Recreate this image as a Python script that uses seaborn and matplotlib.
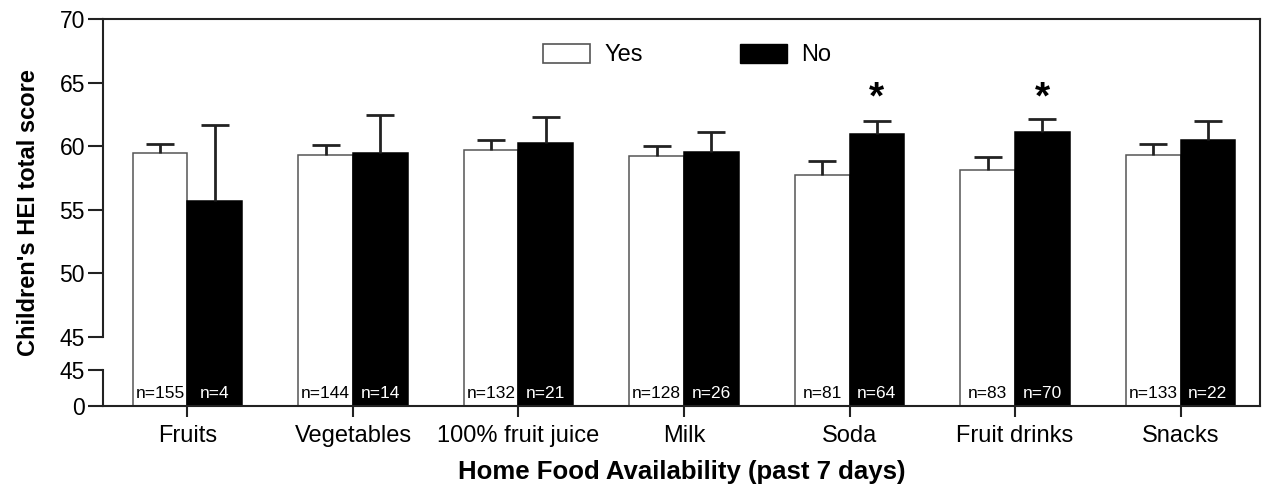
import numpy as np
import pandas as pd
import seaborn as sns
import matplotlib.pyplot as plt
from matplotlib.patches import Patch

# Data
categories = ["Fruits", "Vegetables", "100% fruit juice", "Milk", "Soda", "Fruit drinks", "Snacks"]
yes_mean = [59.45, 59.3, 59.7, 59.2, 57.7, 58.15, 59.3]
yes_upper = [60.15, 60.1, 60.5, 60.05, 58.85, 59.15, 60.2]
no_mean = [55.7, 59.45, 60.25, 59.55, 60.95, 61.1, 60.5]
no_upper = [61.65, 62.45, 62.3, 61.1, 62.0, 62.15, 62.0]
yes_n = [155, 144, 132, 128, 81, 83, 133]
no_n = [4, 14, 21, 26, 64, 70, 22]
significant = [False, False, False, False, True, True, False]

df = pd.DataFrame({
    "food": categories * 2,
    "answer": ["Yes"] * len(categories) + ["No"] * len(categories),
    "score": yes_mean + no_mean,
})

# broken y axis: 0-45 squeezed, then a gap, then 45-70
def fwd(y):
    y = np.asarray(y, dtype=float)
    return np.where(y < 45, y * 36 / 45, 69 + (y - 45) * 318 / 25)

def inv(v):
    v = np.asarray(v, dtype=float)
    return np.where(v < 36, v * 45 / 36, np.where(v < 69, 45, 45 + (v - 69) * 25 / 318))

plt.rcParams['font.family'] = ['Liberation Sans', 'DejaVu Sans']
fig, ax = plt.subplots(figsize=(12.63, 4.98), dpi=100)
fig.subplots_adjust(left=0.0816, right=0.9976, top=0.9618, bottom=0.1847)

sns.barplot(data=df, x="food", y="score", hue="answer", order=categories,
            hue_order=["Yes", "No"], palette=["white", "black"], width=0.66,
            errorbar=None, ax=ax, legend=False)

ax.set_yscale('function', functions=(fwd, inv))
ax.set_ylim(0, 70)
ax.set_xlim(-0.51, 6.48)

uppers = [yes_upper, no_upper]
means = [yes_mean, no_mean]
ns = [yes_n, no_n]
bar_conts = list(ax.containers)
for k, cont in enumerate(bar_conts):
    for i, bar in enumerate(cont):
        cx = bar.get_x() + bar.get_width() / 2
        if k == 0:
            bar.set_edgecolor('#555555')
            tc = 'black'
        else:
            bar.set_edgecolor('black')
            tc = 'white'
        bar.set_linewidth(1.1)
        eb = ax.errorbar(cx, means[k][i], yerr=[[0], [uppers[k][i] - means[k][i]]],
                         fmt='none', ecolor='#222222', elinewidth=2, capsize=10, capthick=2)
        # only the upper cap is shown
        for cap in eb[1]:
            if np.isclose(cap.get_ydata()[0], means[k][i]):
                cap.set_visible(False)
        ax.text(cx, 6, f"n={ns[k][i]}", ha='center', va='bottom', fontsize=12.5, color=tc)
        if k == 1 and significant[i]:
            ax.text(cx, 62.3, "*", ha='center', va='bottom', fontsize=28, fontweight='bold')

# axis styling
ax.spines['left'].set_visible(False)
for s in ['top', 'right', 'bottom']:
    ax.spines[s].set_linewidth(1.5)
    ax.spines[s].set_color('#222222')
trans = ax.get_yaxis_transform()
ax.plot([0, 0], [45, 70], transform=trans, color='#222222', lw=1.5, clip_on=False)
ax.plot([0, 0], [0, 44.999], transform=trans, color='#222222', lw=1.5, clip_on=False)

ax.set_yticks([0, 44.999, 45, 50, 55, 60, 65, 70])
ax.set_yticklabels(['0', '45', '45', '50', '55', '60', '65', '70'])
ax.yaxis.set_minor_locator(plt.NullLocator())
ax.tick_params(axis='y', length=11, width=1.5, pad=2, labelsize=16.5, color='#222222')
ax.tick_params(axis='x', length=8, width=1.5, pad=6, labelsize=17, color='#222222')

ax.set_ylabel("Children's HEI total score", fontsize=17, fontweight='bold', labelpad=14)
ax.set_xlabel("Home Food Availability (past 7 days)", fontsize=18.5, fontweight='bold', labelpad=9)

handles = [Patch(facecolor='white', edgecolor='#555555', linewidth=1.2),
           Patch(facecolor='black', edgecolor='black')]
ax.legend(handles, ["Yes", "No"], loc='center', bbox_to_anchor=(0.505, 0.907), ncol=2,
          frameon=False, fontsize=17, handlelength=2.0, handleheight=0.85,
          handletextpad=0.6, columnspacing=4.1)

fig.savefig("out.png", dpi=100)
